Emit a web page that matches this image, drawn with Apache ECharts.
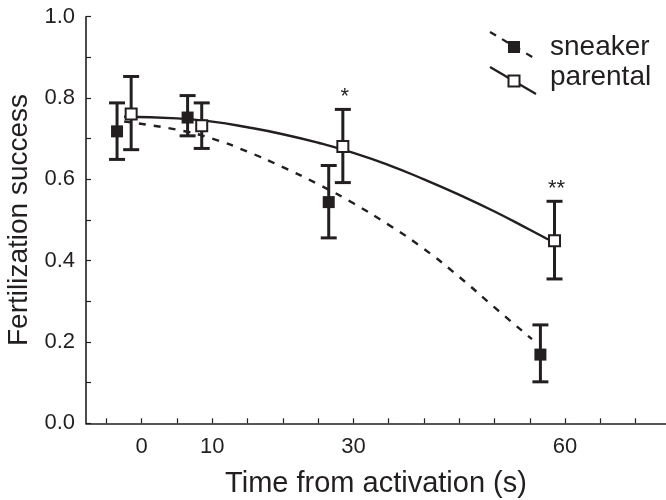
<!DOCTYPE html>
<html>
<head>
<meta charset="utf-8">
<script src="https://cdn.jsdelivr.net/npm/echarts@6/dist/echarts.min.js"></script>
<style>
html, body { margin: 0; padding: 0; background: #fff; }
#chart { width: 666px; height: 500px; }
</style>
</head>
<body>
<div id="chart"></div>
<script>
// ---- data ----
const sneakerTime = [-3.5, 6.5, 26.5, 56.5];
const sneakerMean = [0.718, 0.752, 0.544, 0.169];
const sneakerLow  = [0.649, 0.707, 0.456, 0.102];
const sneakerHigh = [0.788, 0.806, 0.634, 0.242];

const parentalTime = [-1.5, 8.5, 28.5, 58.5];
const parentalMean = [0.761, 0.732, 0.681, 0.449];
const parentalLow  = [0.673, 0.676, 0.592, 0.355];
const parentalHigh = [0.853, 0.788, 0.772, 0.546];
const parentalSig  = ['', '', '*', '**'];

const sneakerFitTime  = [-2.5, 5, 10, 15, 20, 25, 30, 35, 40, 45, 50, 55.3];
const sneakerFitValue = [0.742, 0.722, 0.700, 0.668, 0.630, 0.588, 0.541, 0.488, 0.429, 0.360, 0.285, 0.207];
const parentalFitTime  = [-2.5, 5, 10, 15, 20, 25, 30, 35, 40, 45, 50, 55, 57.6];
const parentalFitValue = [0.754, 0.750, 0.742, 0.728, 0.711, 0.690, 0.665, 0.635, 0.600, 0.562, 0.521, 0.476, 0.452];

const xTickValues  = [-5, 0, 5, 10, 15, 20, 25, 30, 35, 40, 45, 50, 55, 60, 65, 70];
const xLabelValues = [0, 10, 30, 60];
const yLabelValues = [0.0, 0.2, 0.4, 0.6, 0.8, 1.0];

const seriesNames = ['sneaker', 'parental'];
const xTitle = 'Time from activation (s)';
const yTitle = 'Fertilization success';

// ---- styling ----
const INK = '#231f20';
const FONT = '"Liberation Sans", Arial, Helvetica, sans-serif';

function zip(a, b) { return a.map((v, i) => [v, b[i]]); }

function errData(t, m, lo, hi) { return t.map((v, i) => [v, m[i], lo[i], hi[i]]); }

function makeErrRender(sig) {
  return function (params, api) {
    const x = api.value(0), lo = api.value(2), hi = api.value(3);
    const pTop = api.coord([x, hi]);
    const pBot = api.coord([x, lo]);
    const hw = 8;
    const st = { stroke: INK, lineWidth: 3 };
    const children = [
      { type: 'line', shape: { x1: pTop[0], y1: pTop[1], x2: pBot[0], y2: pBot[1] }, style: st },
      { type: 'line', shape: { x1: pTop[0] - hw, y1: pTop[1], x2: pTop[0] + hw, y2: pTop[1] }, style: st },
      { type: 'line', shape: { x1: pBot[0] - hw, y1: pBot[1], x2: pBot[0] + hw, y2: pBot[1] }, style: st }
    ];
    const s = sig ? sig[params.dataIndex] : '';
    if (s) {
      children.push({
        type: 'text',
        style: {
          text: s, x: pTop[0] + 2, y: pTop[1] - 12,
          align: 'center', verticalAlign: 'middle',
          font: '22px ' + FONT, fill: INK
        }
      });
    }
    return { type: 'group', children: children };
  };
}

const chart = echarts.init(document.getElementById('chart'), null, { renderer: 'canvas' });

const option = {
  animation: false,
  backgroundColor: '#fff',
  grid: { left: 86, right: 0, top: 16.7, bottom: 76.7, containLabel: false, outerBoundsMode: 'none' },
  xAxis: {
    type: 'value', min: -7.9, max: 74.3,
    name: xTitle, nameLocation: 'middle', nameGap: 46,
    nameTextStyle: { fontFamily: FONT, fontSize: 29, color: INK },
    axisLine: { show: true, onZero: false, lineStyle: { color: INK, width: 1.6 } },
    axisTick: { show: true, inside: true, length: 5, lineStyle: { color: INK, width: 1.2 }, customValues: xTickValues },
    axisLabel: { show: true, margin: 13, fontFamily: FONT, fontSize: 22, color: INK, customValues: xLabelValues },
    splitLine: { show: false }
  },
  yAxis: {
    type: 'value', min: 0, max: 1, interval: 0.1,
    name: yTitle, nameLocation: 'middle', nameGap: 52,
    nameTextStyle: { fontFamily: FONT, fontSize: 28, color: INK },
    axisLine: { show: true, onZero: false, lineStyle: { color: INK, width: 1.6 } },
    axisTick: { show: true, inside: true, length: 5, lineStyle: { color: INK, width: 1.2 } },
    axisLabel: {
      show: true, margin: 11, fontFamily: FONT, fontSize: 22, color: INK,
      formatter: function (v) {
        const hit = yLabelValues.some(l => Math.abs(l - v) < 1e-6);
        return hit ? v.toFixed(1) : '';
      }
    },
    splitLine: { show: false }
  },
  series: [
    {
      name: seriesNames[0] + ' fit', type: 'line', data: zip(sneakerFitTime, sneakerFitValue),
      smooth: true, showSymbol: false, symbol: 'none', z: 1,
      lineStyle: { color: INK, width: 2.4, type: [7, 8] }
    },
    {
      name: seriesNames[1] + ' fit', type: 'line', data: zip(parentalFitTime, parentalFitValue),
      smooth: true, showSymbol: false, symbol: 'none', z: 1,
      lineStyle: { color: INK, width: 2.4, type: 'solid' }
    },
    {
      name: seriesNames[0] + ' error', type: 'custom', z: 2,
      renderItem: makeErrRender(null),
      data: errData(sneakerTime, sneakerMean, sneakerLow, sneakerHigh)
    },
    {
      name: seriesNames[1] + ' error', type: 'custom', z: 2,
      renderItem: makeErrRender(parentalSig),
      data: errData(parentalTime, parentalMean, parentalLow, parentalHigh)
    },
    {
      name: seriesNames[0], type: 'scatter', z: 3, symbol: 'rect', symbolSize: 12,
      itemStyle: { color: INK, opacity: 1 },
      data: zip(sneakerTime, sneakerMean)
    },
    {
      name: seriesNames[1], type: 'scatter', z: 3, symbol: 'rect', symbolSize: 11,
      itemStyle: { color: '#fff', borderColor: INK, borderWidth: 2, opacity: 1 },
      data: zip(parentalTime, parentalMean)
    }
  ],
  graphic: [
    { type: 'line', shape: { x1: 490, y1: 32, x2: 534, y2: 58 }, style: { stroke: INK, lineWidth: 2.3, lineDash: [7, 7] } },
    { type: 'rect', shape: { x: 508, y: 41, width: 12, height: 12 }, style: { fill: INK } },
    { type: 'text', style: { text: seriesNames[0], x: 550, y: 47, verticalAlign: 'middle', font: '28px ' + FONT, fill: INK } },
    { type: 'line', shape: { x1: 490, y1: 67, x2: 536, y2: 94 }, style: { stroke: INK, lineWidth: 2.3 } },
    { type: 'rect', shape: { x: 508.5, y: 75.5, width: 11, height: 11 }, style: { fill: '#fff', stroke: INK, lineWidth: 2 }, z: 10 },
    { type: 'text', style: { text: seriesNames[1], x: 550, y: 77, verticalAlign: 'middle', font: '28px ' + FONT, fill: INK } }
  ]
};

chart.setOption(option);
</script>
</body>
</html>
